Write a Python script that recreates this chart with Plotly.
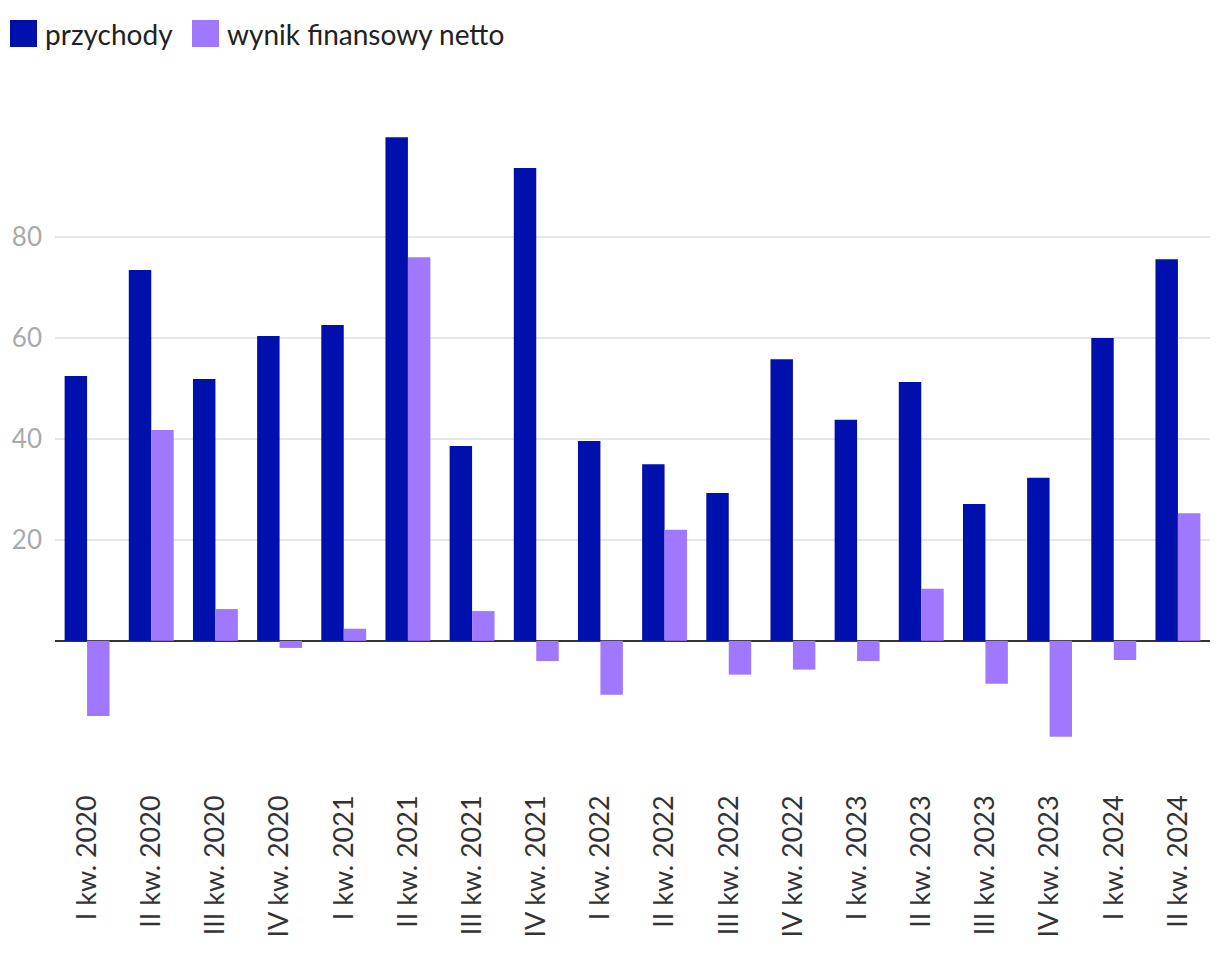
import plotly.graph_objects as go

categories = ["I kw. 2020", "II kw. 2020", "III kw. 2020", "IV kw. 2020",
              "I kw. 2021", "II kw. 2021", "III kw. 2021", "IV kw. 2021",
              "I kw. 2022", "II kw. 2022", "III kw. 2022", "IV kw. 2022",
              "I kw. 2023", "II kw. 2023", "III kw. 2023", "IV kw. 2023",
              "I kw. 2024", "II kw. 2024"]
przychody = [52.5, 73.5, 51.9, 60.4, 62.6, 99.8, 38.6, 93.7, 39.6, 35.0,
             29.3, 55.8, 43.8, 51.3, 27.1, 32.3, 60.0, 75.6]
wynik = [-14.9, 41.8, 6.3, -1.4, 2.4, 76.0, 5.9, -4.0, -10.7, 22.0,
         -6.7, -5.7, -4.0, 10.3, -8.5, -19.0, -3.8, 25.3]
y_ticks = [20, 40, 60, 80]

DARK = "#0010AD"
LIGHT = "#A078FF"
FONT = "Lato, 'Open Sans', sans-serif"

fig = go.Figure()
fig.add_trace(go.Bar(x=categories, y=przychody, name="przychody",
                     marker=dict(color=DARK, line=dict(width=0))))
fig.add_trace(go.Bar(x=categories, y=wynik, name="wynik finansowy netto",
                     marker=dict(color=LIGHT, line=dict(width=0))))

fig.update_layout(
    width=1220, height=956,
    margin=dict(l=55, r=10, t=111, b=189),
    paper_bgcolor="white", plot_bgcolor="white",
    barmode="group", bargap=0.3, bargroupgap=0,
    showlegend=False,
    font=dict(family=FONT, color="#333"),
)
fig.update_xaxes(
    tickangle=-90, tickfont=dict(size=27, color="#333", family=FONT),
    showgrid=False, showline=False, ticks="", ticklabelstandoff=22,
)
fig.update_yaxes(
    range=[-25, 105], tickvals=y_ticks,
    tickfont=dict(size=26, color="#aaaaaa", family=FONT),
    showgrid=True, gridcolor="#e6e6e6", gridwidth=1.5,
    zeroline=True, zerolinecolor="#333333", zerolinewidth=2,
    showline=False, ticks="", ticklabelstandoff=12,
)

# legend drawn at top-left
legend_items = [("przychody", DARK, 10), ("wynik finansowy netto", LIGHT, 192)]
for label, color, px in legend_items:
    fig.add_shape(type="rect", xref="paper", yref="paper",
                  x0=(px - 55) / 1155, x1=(px + 27 - 55) / 1155,
                  y0=(767 - 47) / 656, y1=(767 - 20) / 656,
                  fillcolor=color, line_width=0, layer="above")
    fig.add_annotation(xref="paper", yref="paper",
                       x=(px + 33 - 55) / 1155, y=(767 - 34) / 656,
                       xanchor="left", yanchor="middle", showarrow=False,
                       text=label, font=dict(size=28, color="#222", family=FONT))

fig.write_html("out.html")
